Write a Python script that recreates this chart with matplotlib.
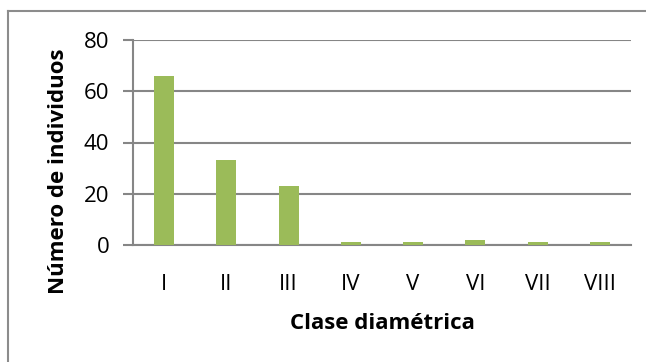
import matplotlib
matplotlib.use('Agg')
import matplotlib.pyplot as plt
from matplotlib.lines import Line2D

clases = ['I', 'II', 'III', 'IV', 'V', 'VI', 'VII', 'VIII']
individuos = [66, 33, 23, 1, 1, 2, 1, 1]
yticks = [0, 20, 40, 60, 80]

plt.rcParams['font.family'] = ['Open Sans', 'DejaVu Sans']

W, H = 646, 362
fig = plt.figure(figsize=(W / 100, H / 100), dpi=100)
ax = fig.add_axes([133 / W, 1 - 245 / H, (631 - 133) / W, (245 - 40) / H])

grid = '#868686'
x = range(len(clases))
ax.bar(x, individuos, width=0.32, color='#9BBB59', zorder=3)

ax.set_xlim(-0.5, len(clases) - 0.5)
ax.set_ylim(0, 80)
ax.set_yticks(yticks)
ax.set_xticks(list(x))
ax.set_xticklabels(clases)
ax.yaxis.grid(True, color=grid, linewidth=1.5, zorder=0)
ax.set_axisbelow(True)

for s in ['top', 'right']:
    ax.spines[s].set_visible(False)
ax.spines['left'].set_color(grid)
ax.spines['left'].set_linewidth(1.5)
ax.spines['bottom'].set_color(grid)
ax.spines['bottom'].set_linewidth(1.5)
ax.tick_params(axis='y', length=7, width=1.5, color=grid, labelsize=16, pad=10)
ax.tick_params(axis='x', length=0, labelsize=16, pad=21)

ax.set_xlabel('Clase diamétrica', fontsize=16, fontweight='bold', labelpad=13)
ax.set_ylabel('Número de individuos', fontsize=16, fontweight='bold')
ax.yaxis.set_label_coords(-0.128, 0.36)

# frame of the chart area (left and top edges only)
fig.add_artist(Line2D([8 / W, 8 / W], [0, 1 - 11 / H], color='#8c8c8c', linewidth=1.5))
fig.add_artist(Line2D([8 / W, 1], [1 - 11 / H, 1 - 11 / H], color='#8c8c8c', linewidth=1.5))

fig.savefig('out.png', dpi=100, facecolor='white')
